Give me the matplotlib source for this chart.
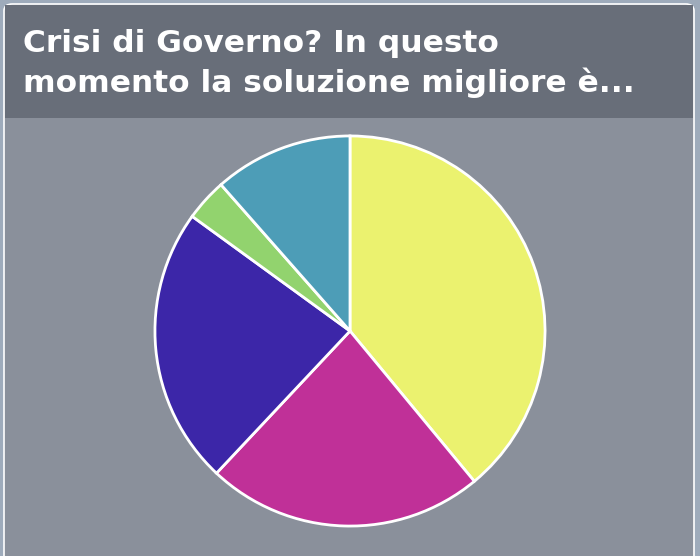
import matplotlib.pyplot as plt
from matplotlib.patches import FancyBboxPatch, Rectangle

# data (shares, %)
values = [39, 23, 23, 3.5, 11.5]
colors = ['#ebf26f', '#c03098', '#3c26a8', '#92d36e', '#4d9db7']
title_lines = ["Crisi di Governo? In questo",
               "momento la soluzione migliore è..."]

W, H = 700, 556
fig = plt.figure(figsize=(W / 100, H / 100), dpi=100)
fig.patch.set_facecolor('#9eabbb')

# panel with rounded white border
panel = FancyBboxPatch((4 / W, -20 / H), 690 / W, 572 / H,
                       boxstyle='round,pad=0,rounding_size=0.012',
                       transform=fig.transFigure, facecolor='#8a909b',
                       edgecolor='white', linewidth=1.2, zorder=-2)
fig.patches.append(panel)

# header band
header = Rectangle((5 / W, (H - 118) / H), 688 / W, 113 / H,
                   transform=fig.transFigure, facecolor='#686e79',
                   edgecolor='none', zorder=-1)
fig.patches.append(header)

for line, base in zip(title_lines, [52, 92]):
    fig.text(23 / W, (H - base) / H, line, ha='left', va='baseline',
             color='white', fontsize=22.5, fontweight='bold',
             family='DejaVu Sans')

# pie
cx, cy, r = 350, H - 331, 197
ax = fig.add_axes([(cx - r) / W, (cy - r) / H, 2 * r / W, 2 * r / H])
ax.pie(values, colors=colors, startangle=90, counterclock=False, radius=1,
       wedgeprops=dict(edgecolor='white', linewidth=2))
ax.set_xlim(-1.01, 1.01)
ax.set_ylim(-1.01, 1.01)
ax.set_aspect('equal')
ax.axis('off')

fig.savefig('out.png', dpi=100, facecolor=fig.get_facecolor())
